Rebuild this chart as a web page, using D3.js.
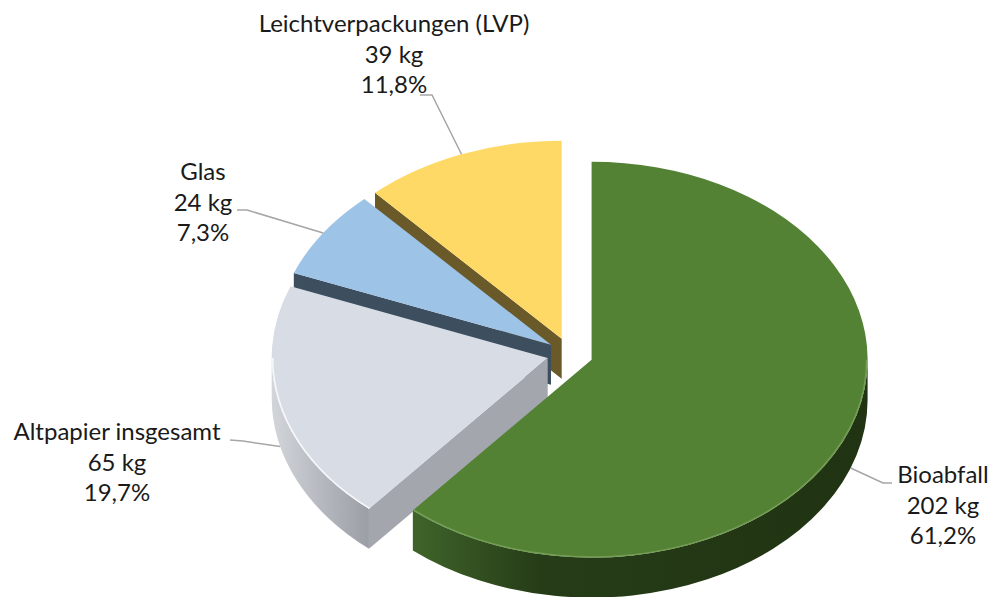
<!DOCTYPE html>
<html>
<head>
<meta charset="utf-8">
<script src="https://cdn.jsdelivr.net/npm/d3@7"></script>
<style>
  html, body { margin: 0; padding: 0; background: #fff; }
  svg { display: block; }
</style>
</head>
<body>
<svg id="chart" width="995" height="597"></svg>
<script>
// data
var categories = ['Bioabfall', 'Altpapier insgesamt', 'Glas', 'Leichtverpackungen (LVP)'];
var valuesKg = [202, 65, 24, 39];

// styles
var topColors = ['#548235', '#d7dce5', '#9dc3e6', '#ffd966'];
var rimColors = ['#7aa35c', '#ffffff', '#c6ddf3', '#ffe9a6'];
var radialSideColors = ['#2b4419', '#a3a6ad', '#3d4e5f', '#6a5a2a'];
var outerSideStops = [
    [['0%', '#3f6429'], ['28%', '#263c18'], ['100%', '#203312']],
    [['0%', '#d2d5da'], ['50%', '#b6b9bf'], ['100%', '#9b9ea5']],
    [['0%', '#50657a'], ['100%', '#36475a']],
    [['0%', '#8a7636'], ['100%', '#5e5024']]
];

// label placement (center x, first baseline, leader start, elbow)
var labelLayout = [
    {x: 943, y: 483, start: [892, 483], elbow: [883, 483]},
    {x: 117, y: 440, start: [230, 440], elbow: [243, 441]},
    {x: 203, y: 180, start: [237, 210], elbow: [247, 210]},
    {x: 394, y: 32, start: [420, 95], elbow: [432, 95]}
];

var width = 995, height = 597;
var cx0 = 570, cy0 = 354;     // pie center
var R = 276, K = 0.717;       // radius and vertical squash
var depth = 40;               // thickness
var explode = 23;
var lineGap = 30.5;

var svg = d3.select('#chart');
var defs = svg.append('defs');
var g = svg.append('g');

var rows = categories.map(function (c, i) { return {name: c, v: valuesKg[i], i: i}; });
var total = d3.sum(valuesKg);
var pct = d3.format('.1f');

var pie = d3.pie().sort(null).value(function (d) { return d.v; })
    .startAngle(0).endAngle(2 * Math.PI);
var arcs = pie(rows);

function pt(c, th, r, z) {
    return [c[0] + r * Math.sin(th), c[1] - r * K * Math.cos(th) + (z || 0)];
}
function P(p) { return p[0].toFixed(2) + ',' + p[1].toFixed(2); }

arcs.forEach(function (a) {
    a.mid = (a.startAngle + a.endAngle) / 2;
    a.c = [cx0 + explode * Math.sin(a.mid), cy0 - explode * K * Math.cos(a.mid)];
});

// back to front
var order = arcs.slice().sort(function (a, b) { return -Math.cos(a.mid) + Math.cos(b.mid); });

order.forEach(function (a) {
    var i = a.data.i;
    var c = a.c, s = a.startAngle, e = a.endAngle;
    var sg = g.append('g').attr('class', 'slice');

    // radial side at start edge
    if (Math.sin(s) < -1e-6) {
        var p1 = pt(c, s, R, 0), p2 = pt(c, s, R, depth);
        sg.append('path')
            .attr('d', 'M' + P(c) + 'L' + P(p1) + 'L' + P(p2) + 'L' + P([c[0], c[1] + depth]) + 'Z')
            .attr('fill', radialSideColors[i]);
    }
    // radial side at end edge
    if (Math.sin(e) > 1e-6) {
        var q1 = pt(c, e, R, 0), q2 = pt(c, e, R, depth);
        sg.append('path')
            .attr('d', 'M' + P(c) + 'L' + P(q1) + 'L' + P(q2) + 'L' + P([c[0], c[1] + depth]) + 'Z')
            .attr('fill', radialSideColors[i]);
    }

    // outer side (front half only)
    var vs = Math.max(s, Math.PI / 2), ve = Math.min(e, 3 * Math.PI / 2);
    if (ve > vs) {
        var gid = 'side-grad-' + i;
        defs.append('linearGradient')
            .attr('id', gid)
            .attr('x1', '0%').attr('y1', '0%').attr('x2', '100%').attr('y2', '0%')
            .selectAll('stop')
            .data(outerSideStops[i])
            .enter()
            .append('stop')
            .attr('offset', function (d) { return d[0]; })
            .attr('stop-color', function (d) { return d[1]; });
        var lg = (ve - vs) > Math.PI ? 1 : 0;
        var d = 'M' + P(pt(c, vs, R, 0)) +
            'A' + R + ' ' + (R * K) + ' 0 ' + lg + ' 1 ' + P(pt(c, ve, R, 0)) +
            'L' + P(pt(c, ve, R, depth)) +
            'A' + R + ' ' + (R * K) + ' 0 ' + lg + ' 0 ' + P(pt(c, vs, R, depth)) + 'Z';
        sg.append('path').attr('d', d).attr('fill', 'url(#' + gid + ')');
    }

    // top face
    var large = (e - s) > Math.PI ? 1 : 0;
    sg.append('path')
        .attr('d', 'M' + P(c) + 'L' + P(pt(c, s, R, 0)) +
            'A' + R + ' ' + (R * K) + ' 0 ' + large + ' 1 ' + P(pt(c, e, R, 0)) + 'Z')
        .attr('fill', topColors[i]);

    // rim highlight on the front edge
    if (ve > vs) {
        var lg2 = (ve - vs) > Math.PI ? 1 : 0;
        sg.append('path')
            .attr('d', 'M' + P(pt(c, vs, R - 1, 0)) +
                'A' + (R - 1) + ' ' + ((R - 1) * K) + ' 0 ' + lg2 + ' 1 ' + P(pt(c, ve, R - 1, 0)))
            .attr('fill', 'none')
            .attr('stroke', rimColors[i])
            .attr('stroke-width', 1.5)
            .attr('stroke-opacity', 0.8);
    }
});

// leader lines and labels
var lab = svg.append('g').attr('class', 'labels');
arcs.forEach(function (a) {
    var i = a.data.i, L = labelLayout[i];
    var end = pt(a.c, a.mid, R, 0);
    if (Math.cos(a.mid) < 0) end[1] += depth;
    lab.append('polyline')
        .attr('points', [L.start, L.elbow, end].map(P).join(' '))
        .attr('fill', 'none')
        .attr('stroke', '#a6a6a6')
        .attr('stroke-width', 1.5);

    var lines = [a.data.name, a.data.v + ' kg', pct(a.data.v / total * 100).replace('.', ',') + '%'];
    var t = lab.append('text')
        .attr('text-anchor', 'middle')
        .attr('font-family', 'Lato, "Open Sans", sans-serif')
        .attr('font-size', 24)
        .attr('fill', '#1a1a1a');
    lines.forEach(function (s, k) {
        t.append('tspan').attr('x', L.x).attr('y', L.y + k * lineGap).text(s);
    });
});
</script>
</body>
</html>
